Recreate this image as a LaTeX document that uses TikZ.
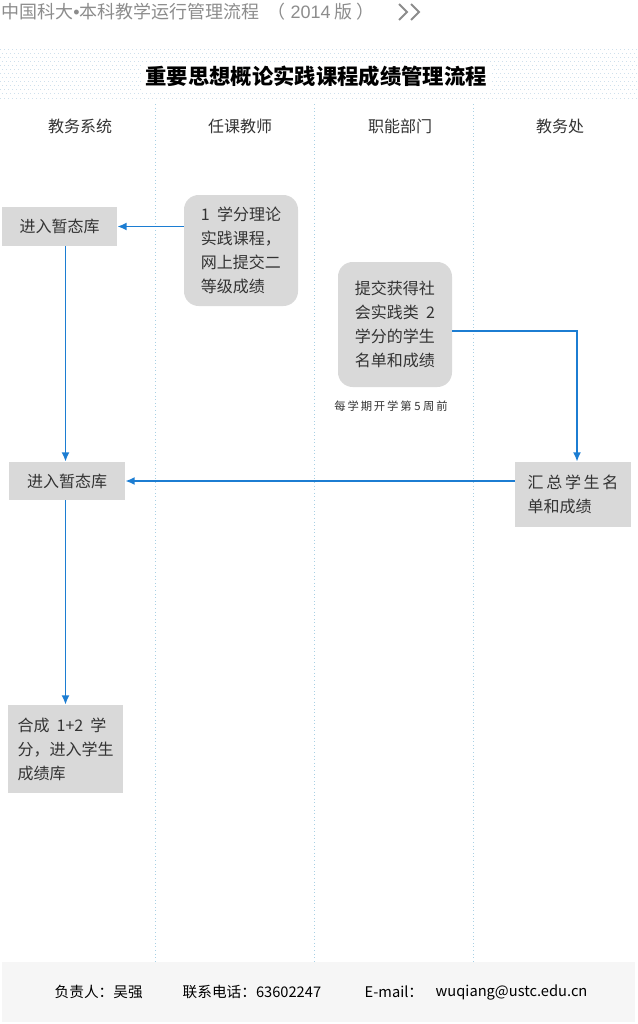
\documentclass[tikz,border=0pt]{standalone}
\usepackage{fontspec}
\setmainfont{Noto Sans CJK SC}
\newfontfamily\latinfont{Liberation Sans}
\usetikzlibrary{arrows.meta, positioning, calc}
\definecolor{cBlue}{HTML}{1C7DD2}
\definecolor{cBox}{HTML}{D9D9D9}
\definecolor{cLane}{HTML}{A9D0E4}
\definecolor{cDots}{HTML}{CFE0EC}
\definecolor{cHead}{HTML}{8C8C8C}
\definecolor{cFoot}{HTML}{F6F6F6}
\definecolor{cText}{HTML}{333333}

\begin{document}
\begin{tikzpicture}[
    x=0.75pt, y=-0.75pt,
    >=Latex,
    arrow/.style={-{Latex[length=7pt,width=6pt]}, cBlue, line width=1.4pt},
    box/.style={fill=cBox, text=cText, font=\fontsize{12}{18}\selectfont, align=left, inner sep=0pt},
    roundbox/.style={box, rounded corners=11pt},
    lane/.style={cLane, dotted, line width=0.7pt},
    dots/.style={cDots, line width=0.75pt, dash pattern=on 0.75pt off 2.25pt},
    lanehead/.style={font=\fontsize{12}{14}\selectfont, text=cText},
    foot/.style={font=\fontsize{11}{13}\selectfont, text=black, anchor=west},
]
\useasboundingbox (0,0) rectangle (637,1024);

% ---------- Header ----------
\node[anchor=west, inner sep=0pt, text=cHead, font=\fontsize{13.5}{15}\selectfont] (head) at (1,12) {中国科大{\latinfont•}本科教学运行管理流程\ \ （{\latinfont\ 2014} 版\ ）};
\draw[cHead, line width=1.4pt] (399,4) -- (407,12) -- (399,20);
\draw[cHead, line width=1.4pt] (411,4) -- (419,12) -- (411,20);

% ---------- Dotted band + title ----------
\foreach \yy in {50,58,...,98}{
  \draw[dots] (0,\yy) -- (637,\yy);
}
\foreach \yy in {54,62,...,94}{
  \draw[dots, dash phase=1.5pt] (0,\yy) -- (637,\yy);
}
\node[fill=white, inner sep=3pt, font=\bfseries\fontsize{16}{18}\selectfont] (title) at (316,76) {重要思想概论实践课程成绩管理流程};

% ---------- Lanes ----------
\foreach \lx in {155,314,473}{
  \draw[lane] (\lx,104) -- (\lx,962);
}
\node[lanehead] (h1) at (80,126)  {教务系统};
\node[lanehead] (h2) at (240,126) {任课教师};
\node[lanehead] (h3) at (400,126) {职能部门};
\node[lanehead] (h4) at (560,126) {教务处};

% ---------- Boxes ----------
\node[box, align=center, minimum width=115*0.75pt, minimum height=39*0.75pt] (A) at (59.5,226.5) {进入暂态库};
\node[roundbox, minimum width=114*0.75pt, minimum height=111*0.75pt] (B) at (241,250.5) {1\ \ 学分理论\\实践课程，\\网上提交二\\等级成绩};
\node[roundbox, minimum width=114*0.75pt, minimum height=125*0.75pt] (C) at (395,324.5) {提交获得社\\会实践类\ \ 2\\学分的学生\\名单和成绩};
\node[font=\fontsize{8.5}{10}\selectfont, text=cText] (when) at (391,406) {每\,学\,期\,开\,学\,第\ 5\ 周\,前};
\node[box, minimum width=116*0.75pt, minimum height=65*0.75pt] (D) at (573,494.5) {汇\,总\,学\,生\,名\\单和成绩};
\node[box, align=center, minimum width=116*0.75pt, minimum height=38*0.75pt] (E) at (67,481) {进入暂态库};
\node[box, minimum width=115*0.75pt, minimum height=88*0.75pt] (F) at (65.5,749) {合成\ \ 1+2\ \ 学\\分，进入学生\\成绩库};

% ---------- Connectors ----------
\draw[arrow] (B.west |- A.east) -- (A.east);
\draw[arrow] ([yshift=-5pt]C.east) -| ([xshift=3pt]D.north);
\draw[arrow] (D.west |- E.east) -- (E.east);
\draw[arrow] (A.south -| F.north) -- (E.north -| F.north);
\draw[arrow] (E.south -| F.north) -- (F.north);

% ---------- Footer ----------
\fill[cFoot] (2,962) rectangle (635,1022);
\node[foot] (f1) at (50,992)  {负责人：吴强};
\node[foot] (f2) at (178,992) {联系电话：63602247};
\node[foot] (f3) at (360,992) {E-mail：};
\node[foot] (f4) at (431,992) {wuqiang@ustc.edu.cn};

\end{tikzpicture}
\end{document}
